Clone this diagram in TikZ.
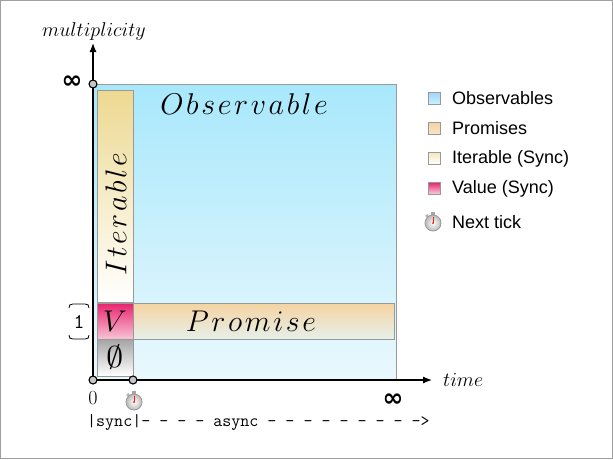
\RequirePackage{fix-cm}
\documentclass[tikz,border=0pt]{standalone}
\usepackage{fontspec}
\newfontfamily\legendfont{Liberation Sans}
\newfontfamily\inffont{DejaVu Sans}[BoldFont={DejaVu Sans Bold}]
\usepackage{amsmath,amssymb}
\usetikzlibrary{arrows.meta}
\definecolor{obstop}{HTML}{A8E8FC}
\definecolor{obsbot}{HTML}{EAF8FD}
\definecolor{ittop}{HTML}{EDD991}
\definecolor{vtop}{HTML}{E8246E}
\definecolor{vbot}{HTML}{F8C4D6}
\definecolor{prtop}{HTML}{F5D3A2}
\definecolor{prbot}{HTML}{E6F0EA}
\definecolor{emtop}{HTML}{A4A4A4}
\definecolor{rimgray}{HTML}{999999}
\newcommand\lsp{\mkern1.6mu}
\tikzset{
  region/.style={draw=rimgray, line width=0.9pt},
  dot/.style={circle, draw=black, fill=gray!45, line width=1.1pt, inner sep=0pt, minimum size=8pt},
  axis/.style={line width=1.2pt, -{Latex[length=9pt,width=7pt]}},
  bigmath/.style={font=\fontsize{30}{34}\selectfont, inner sep=0pt},
  axlabel/.style={font=\fontsize{20}{24}\selectfont, inner sep=0pt},
  ttlabel/.style={font=\fontsize{17.5}{20}\selectfont\ttfamily, inner sep=0pt},
  inflabel/.style={font=\fontsize{25}{28}\selectfont\inffont\bfseries, inner sep=0pt},
  legtext/.style={font=\fontsize{18}{21}\selectfont\legendfont, anchor=west, inner sep=0pt},
  legbox/.style={draw=rimgray, line width=0.8pt, minimum size=12pt, inner sep=0pt},
  stopwatch/.pic={
    \fill[gray!70] (-1.6,-11.5) rectangle (1.6,-8);
    \fill[gray!60, rotate=40] (-1.3,-10.5) rectangle (1.3,-7);
    \shade[inner color=white, outer color=gray!55, draw=gray!80, line width=0.8pt] (0,0) circle (8);
    \draw[red!80!orange, line width=0.8pt] (0,0) -- (0,-6.5);
    \fill[red!80!orange] (0,0) circle (1);
  }
}
\begin{document}
\begin{tikzpicture}[x=1pt,y=-1pt]
\useasboundingbox (0,0) rectangle (613,459);
\draw[gray!75, line width=1pt] (0.5,0.5) rectangle (612.5,458.5);

% regions
\shade[top color=obstop, bottom color=obsbot, region] (93,84) rectangle (396,380);
\shade[top color=ittop, bottom color=white, region] (97,90) rectangle (133,302);
\shade[top color=vtop, bottom color=vbot, region] (97,303) rectangle (133,339);
\shade[top color=prtop, bottom color=prbot, region] (133,303) rectangle (394,339);
\shade[top color=emtop, bottom color=white, region] (97,339) rectangle (133,376);

\node[bigmath] (obs) at (244,104) {$O\lsp b\lsp s\lsp e\lsp r\lsp v\lsp a\lsp b\lsp l\lsp e$};
\node[bigmath, rotate=90] (iter) at (116,214) {$I\lsp t\lsp e\lsp r\lsp a\lsp b\lsp l\lsp e$};
\node[bigmath] (val) at (115,321) {$V$};
\node[bigmath] (prom) at (251,321) {$P\lsp r\lsp o\lsp m\lsp i\lsp s\lsp e$};
\node[bigmath, xscale=1.15] (empty) at (115,357) {$\emptyset$};

% axes
\coordinate (O) at (93,380);
\coordinate (ytip) at (93,43);
\coordinate (xtip) at (432,380);
\draw[axis] (O) -- (ytip);
\draw[axis] (O) -- (xtip);
\node[axlabel] (mult) at (94,31) {$multiplicity$};
\node[axlabel, anchor=west] (time) at (443,380) {$time$};

\node[dot] (d0) at (O) {};
\node[dot] (dinf) at (93,84) {};
\node[dot] (dtick) at (133,380) {};

\node[inflabel] (infy) at (72,82) {∞};
\node[inflabel] (infx) at (393,400) {∞};
\node[inner sep=0pt, font=\fontsize{20}{24}\selectfont] (zero) at (93,398) {0};
\pic at (134,402) {stopwatch};

% "1" with bracket
\node[inner sep=0pt, font=\fontsize{21}{24}\selectfont\ttfamily] (one) at (79,322) {1};
\draw[line width=0.8pt] (69,308) .. controls (69,305) and (70,304) .. (73,304) -- (85,304) .. controls (88,304) and (89,305) .. (89,308);
\draw[line width=0.8pt] (69,335) .. controls (69,338) and (70,339) .. (73,339) -- (85,339) .. controls (88,339) and (89,338) .. (89,335);

\node[ttlabel, anchor=west] (sync) at (87,422) {|sync|- - - - async - - - - - - - - ->};

% legend
\node[legbox, top color=obstop!90!blue!95, bottom color=obstop!60] (l1) at (434,98) {};
\node[legtext] (t1) at (452,98) {Observables};
\node[legbox, top color=prtop, bottom color=prtop!60] (l2) at (434,128.5) {};
\node[legtext] (t2) at (452,128.5) {Promises};
\node[legbox, top color=ittop!60, bottom color=white] (l3) at (434,158.5) {};
\node[legtext] (t3) at (452,158.5) {Iterable (Sync)};
\node[legbox, top color=vtop, bottom color=vbot!70] (l4) at (434,188.5) {};
\node[legtext] (t4) at (452,188.5) {Value (Sync)};
\pic at (433,223) {stopwatch};
\node[legtext] (t5) at (452,222) {Next tick};
\end{tikzpicture}
\end{document}
